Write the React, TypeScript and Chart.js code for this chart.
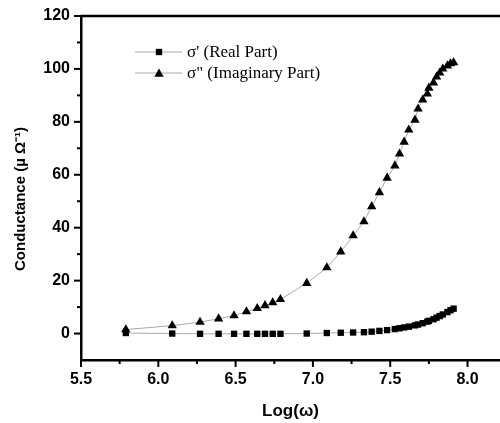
import React, { useEffect, useRef } from "react";
import { Chart, registerables } from "chart.js";

Chart.register(...registerables);

const logW = [5.79, 6.09, 6.27, 6.39, 6.49, 6.57, 6.64, 6.69, 6.74, 6.79, 6.96, 7.09, 7.18, 7.26, 7.33, 7.38, 7.43, 7.48, 7.53, 7.56, 7.59, 7.62, 7.66, 7.68, 7.71, 7.74, 7.75, 7.78, 7.80, 7.82, 7.84, 7.87, 7.89, 7.91];
const realPart = [0.2, 0.0, -0.1, -0.1, -0.1, -0.1, -0.1, -0.1, -0.1, -0.1, 0.0, 0.2, 0.3, 0.4, 0.5, 0.7, 1.0, 1.3, 1.7, 2.0, 2.3, 2.6, 3.1, 3.4, 3.9, 4.5, 4.8, 5.4, 6.0, 6.6, 7.2, 8.1, 8.8, 9.4];
const imagPart = [1.5, 3.0, 4.3, 5.6, 6.8, 8.3, 9.5, 10.6, 11.7, 12.9, 19.0, 24.9, 30.9, 37.0, 42.3, 48.0, 53.3, 58.8, 63.4, 67.9, 72.4, 77.0, 80.7, 84.9, 88.3, 90.6, 92.8, 94.8, 97.0, 98.5, 100.0, 101.2, 102.0, 102.4];
const xMajorTicks = [5.5, 6.0, 6.5, 7.0, 7.5, 8.0];
const xMinorTicks = [5.75, 6.25, 6.75, 7.25, 7.75];
const yMajorTicks = [0, 20, 40, 60, 80, 100, 120];
const yMinorTicks = [10, 30, 50, 70, 90, 110];
const legendLabels = ["σ' (Real Part)", 'σ" (Imaginary Part)'];
const xTitle = "Log(ω)";
const yTitle = "Conductance (µ Ω⁻¹)";

const TICK_FONT = { family: "'Liberation Sans', Arial, sans-serif", size: 16, weight: "bold" as const };

function drawMarker(ctx: CanvasRenderingContext2D, style: string, r: number, x: number, y: number) {
  ctx.beginPath();
  if (style === "rect") {
    const s = Math.SQRT1_2 * r;
    ctx.rect(x - s, y - s, 2 * s, 2 * s);
  } else {
    ctx.moveTo(x, y - r);
    ctx.lineTo(x + Math.sin((2 * Math.PI) / 3) * r, y - Math.cos((2 * Math.PI) / 3) * r);
    ctx.lineTo(x + Math.sin((4 * Math.PI) / 3) * r, y - Math.cos((4 * Math.PI) / 3) * r);
    ctx.closePath();
  }
  ctx.fill();
}

const decorPlugin = {
  id: "decor",
  afterDraw(chart: any) {
    const ctx = chart.ctx;
    const xs = chart.scales.x;
    const ys = chart.scales.y;
    const area = chart.chartArea;
    ctx.save();
    ctx.strokeStyle = "#000";
    ctx.lineWidth = 2.5;
    ctx.beginPath();
    ctx.moveTo(area.left, area.top);
    ctx.lineTo(area.right, area.top);
    ctx.stroke();
    ctx.lineWidth = 2;
    yMajorTicks.forEach((v) => {
      const py = ys.getPixelForValue(v);
      ctx.beginPath();
      ctx.moveTo(area.left - 7, py);
      ctx.lineTo(area.left, py);
      ctx.stroke();
    });
    yMinorTicks.forEach((v) => {
      const py = ys.getPixelForValue(v);
      ctx.beginPath();
      ctx.moveTo(area.left - 4, py);
      ctx.lineTo(area.left, py);
      ctx.stroke();
    });
    xMajorTicks.forEach((v) => {
      const px = xs.getPixelForValue(v);
      ctx.beginPath();
      ctx.moveTo(px, area.bottom);
      ctx.lineTo(px, area.bottom + 7);
      ctx.stroke();
    });
    xMinorTicks.forEach((v) => {
      const px = xs.getPixelForValue(v);
      ctx.beginPath();
      ctx.moveTo(px, area.bottom);
      ctx.lineTo(px, area.bottom + 4);
      ctx.stroke();
    });
    ctx.fillStyle = "#000";
    ctx.font = "bold 17px 'Liberation Sans', Arial, sans-serif";
    ctx.textAlign = "center";
    ctx.textBaseline = "middle";
    ctx.fillText(xTitle, (area.left + area.right) / 2, 411);
    ctx.save();
    ctx.translate(21, 199);
    ctx.rotate(-Math.PI / 2);
    ctx.font = "bold 15px 'Liberation Sans', Arial, sans-serif";
    ctx.fillText(yTitle, 0, 0);
    ctx.restore();
    const rows = [52, 73];
    const styles = ["rect", "triangle"];
    const radii = [4.5, 5.4];
    rows.forEach((ry, i) => {
      ctx.strokeStyle = "#aaa";
      ctx.lineWidth = 1;
      ctx.beginPath();
      ctx.moveTo(135, ry);
      ctx.lineTo(182, ry);
      ctx.stroke();
      ctx.fillStyle = "#000";
      drawMarker(ctx, styles[i], radii[i], 159, i === 1 ? ry + 1 : ry);
      ctx.font = "17px 'Liberation Serif', 'Times New Roman', serif";
      ctx.textAlign = "left";
      ctx.textBaseline = "middle";
      ctx.fillText(legendLabels[i], 187, ry + 1);
    });
    ctx.restore();
  },
};

export default function App() {
  const ref = useRef<HTMLCanvasElement | null>(null);
  useEffect(() => {
    document.body.style.margin = "0";
    if (!ref.current) return;
    const chart = new Chart(ref.current, {
      type: "scatter",
      data: {
        datasets: [
          {
            label: legendLabels[0],
            data: logW.map((x, i) => ({ x, y: realPart[i] })),
            showLine: true,
            borderColor: "#aaa",
            borderWidth: 1,
            pointStyle: "rect",
            pointRadius: 4.5,
            pointBackgroundColor: "#000",
            pointBorderWidth: 0,
          },
          {
            label: legendLabels[1],
            data: logW.map((x, i) => ({ x, y: imagPart[i] })),
            showLine: true,
            borderColor: "#aaa",
            borderWidth: 1,
            pointStyle: "triangle",
            pointRadius: 5.4,
            pointBackgroundColor: "#000",
            pointBorderWidth: 0,
          },
        ],
      },
      options: {
        animation: false,
        responsive: false,
        layout: { autoPadding: false, padding: { top: 16, right: 0, left: 0, bottom: 0 } },
        plugins: { legend: { display: false }, tooltip: { enabled: false } },
        scales: {
          x: {
            type: "linear",
            min: 5.5,
            max: 8.21,
            afterBuildTicks: (s: any) => {
              s.ticks = xMajorTicks.map((v) => ({ value: v }));
            },
            afterFit: (s: any) => {
              s.height = 63;
              s.paddingLeft = 0;
              s.paddingRight = 0;
            },
            grid: { display: false, drawTicks: false },
            border: { display: true, color: "#000", width: 2.5 },
            ticks: {
              color: "#000",
              font: TICK_FONT,
              padding: 10,
              maxRotation: 0,
              autoSkip: false,
              callback: (v: any) => Number(v).toFixed(1),
            },
          },
          y: {
            type: "linear",
            min: -10,
            max: 120,
            afterBuildTicks: (s: any) => {
              s.ticks = yMajorTicks.map((v) => ({ value: v }));
            },
            afterFit: (s: any) => {
              s.width = 81;
              s.paddingTop = 0;
              s.paddingBottom = 0;
            },
            grid: { display: false, drawTicks: false },
            border: { display: true, color: "#000", width: 2.5 },
            ticks: {
              color: "#000",
              font: TICK_FONT,
              padding: 11,
              autoSkip: false,
              callback: (v: any) => String(v),
            },
          },
        },
      },
      plugins: [decorPlugin],
    });
    return () => chart.destroy();
  }, []);
  return (
    <div style={{ width: 500, height: 423 }}>
      <canvas ref={ref} width={500} height={423} style={{ display: "block" }} />
    </div>
  );
}
